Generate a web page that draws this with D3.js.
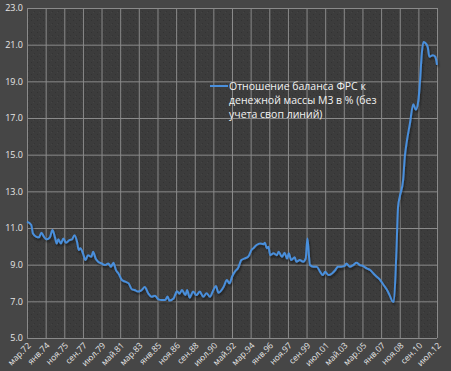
<!DOCTYPE html>
<html>
<head>
<meta charset="utf-8">
<script src="https://cdn.jsdelivr.net/npm/d3@7"></script>
<style>
  html, body { margin: 0; padding: 0; background: #464646; }
  svg { display: block; }
</style>
</head>
<body>
<div id="chart"></div>
<script>
const width = 451
const height = 371
const margin = {top: 8, right: 14, bottom: 33, left: 27}

// monthly readings, Fed balance sheet / M3 (%)
const dates = [
  "1972-03","1972-08","1972-10","1973-02","1973-05","1973-08","1973-11","1974-02","1974-06","1974-09",
  "1974-12","1975-02","1975-04","1975-07","1975-10","1976-01","1976-05","1976-08","1976-11","1977-02",
  "1977-04","1977-06","1977-09","1977-12","1978-03","1978-07","1978-09","1978-12","1979-03","1979-07",
  "1979-11","1980-03","1980-06","1980-09","1980-12","1981-03","1981-07","1981-11","1982-03","1982-07",
  "1982-10","1983-02","1983-06","1983-10","1984-02","1984-06","1984-10","1985-02","1985-06","1985-10",
  "1986-01","1986-03","1986-08","1986-12","1987-03","1987-06","1987-10","1987-12","1988-03","1988-07",
  "1988-11","1989-03","1989-07","1989-11","1990-03","1990-07","1990-10","1991-01","1991-07","1991-11",
  "1992-02","1992-05","1992-09","1992-12","1993-04","1993-08","1993-12","1994-04","1994-06","1994-10",
  "1995-02","1995-06","1995-08","1995-10","1995-12","1996-02","1996-06","1996-10","1996-12","1997-04",
  "1997-07","1997-10","1997-12","1998-03","1998-07","1998-09","1999-01","1999-05","1999-08","1999-10",
  "1999-11","2000-01","2000-05","2000-09","2001-01","2001-04","2001-07","2001-11","2002-03","2002-07",
  "2002-10","2003-02","2003-06","2003-08","2003-12","2004-04","2004-08","2004-12","2005-04","2005-08",
  "2005-12","2006-04","2006-08","2006-12","2007-04","2007-08","2007-11","2008-03","2008-04","2008-07",
  "2008-09","2008-11","2009-03","2009-05","2009-07","2009-11","2010-03","2010-06","2010-09","2010-11",
  "2011-01","2011-03","2011-05","2011-08","2011-10","2012-02","2012-05","2012-07"
]
const values = [
  11.35, 11.16, 10.70, 10.52, 10.49, 10.74, 10.52, 10.38, 10.49, 10.89,
  10.49, 10.16, 10.38, 10.16, 10.43, 10.19, 10.34, 10.38, 10.61, 10.25,
  9.80, 9.89, 9.62, 9.25, 9.52, 9.43, 9.70, 9.34, 9.16, 9.07,
  8.98, 9.07, 8.89, 9.10, 8.70, 8.52, 8.16, 8.07, 7.98, 7.65,
  7.62, 7.53, 7.60, 7.78, 7.44, 7.25, 7.30, 7.11, 7.07, 7.07,
  7.27, 7.05, 7.16, 7.55, 7.42, 7.62, 7.34, 7.62, 7.20, 7.53,
  7.34, 7.53, 7.25, 7.44, 7.25, 7.62, 7.83, 7.47, 7.78, 8.16,
  7.98, 8.34, 8.66, 8.80, 9.25, 9.34, 9.43, 9.80, 9.89, 10.07,
  10.16, 10.12, 10.19, 9.89, 9.98, 9.52, 9.62, 9.52, 9.70, 9.43,
  9.65, 9.34, 9.62, 9.25, 9.40, 9.16, 9.25, 9.16, 9.34, 10.43,
  9.98, 8.98, 8.89, 8.89, 8.61, 8.43, 8.61, 8.43, 8.52, 8.71,
  8.89, 8.89, 8.93, 9.07, 8.89, 8.98, 9.10, 8.98, 8.92, 8.80,
  8.71, 8.52, 8.34, 8.16, 7.89, 7.62, 7.34, 6.98, 6.98, 9.62,
  12.16, 12.71, 13.61, 14.88, 15.61, 16.70, 17.75, 17.45, 17.97, 19.06,
  20.51, 21.15, 21.10, 20.88, 20.34, 20.42, 20.34, 19.90
]

const xTicks = ["1972-03","1974-01","1975-11","1977-09","1979-07","1981-05","1983-03","1985-01",
  "1986-11","1988-09","1990-07","1992-05","1994-03","1996-01","1997-11","1999-09","2001-07",
  "2003-05","2005-03","2007-01","2008-11","2010-09","2012-07"]
const xTickLabels = ["мар.72","янв.74","ноя.75","сен.77","июл.79","май.81","мар.83","янв.85",
  "ноя.86","сен.88","июл.90","май.92","мар.94","янв.96","ноя.97","сен.99","июл.01",
  "май.03","мар.05","янв.07","ноя.08","сен.10","июл.12"]
const yTicks = [5, 7, 9, 11, 13, 15, 17, 19, 21, 23]
const legendLines = ["Отношение баланса ФРС к", "денежной массы М3 в % (без", "учета своп линий)"]

const parse = d3.timeParse("%Y-%m")
const data = dates.map((d, i) => ({date: parse(d), value: values[i]}))

const svg = d3.select("#chart").append("svg")
  .attr("width", width)
  .attr("height", height)

const defs = svg.append("defs")
const pat = defs.append("pattern")
  .attr("id", "grain")
  .attr("width", 6).attr("height", 6)
  .attr("patternUnits", "userSpaceOnUse")
pat.append("rect").attr("width", 6).attr("height", 6).attr("fill", "#3c3c3c")
pat.append("rect").attr("x", 1).attr("y", 2).attr("width", 1).attr("height", 1).attr("fill", "#323232")
pat.append("rect").attr("x", 4).attr("y", 5).attr("width", 1).attr("height", 1).attr("fill", "#343434")
pat.append("rect").attr("x", 3).attr("y", 0).attr("width", 1).attr("height", 1).attr("fill", "#444")

const shadow = defs.append("filter").attr("id", "shadow")
  .attr("x", "-5%").attr("y", "-5%").attr("width", "110%").attr("height", "120%")
shadow.append("feDropShadow")
  .attr("dx", 1).attr("dy", 2).attr("stdDeviation", 1)
  .attr("flood-color", "#000").attr("flood-opacity", 0.5)

const x = d3.scaleTime()
  .domain([parse(xTicks[0]), parse(xTicks[xTicks.length - 1])])
  .range([margin.left, width - margin.right])

const y = d3.scaleLinear()
  .domain([5, 23])
  .range([height - margin.bottom, margin.top])

svg.append("rect")
  .attr("x", margin.left).attr("y", margin.top)
  .attr("width", width - margin.right - margin.left)
  .attr("height", height - margin.bottom - margin.top)
  .attr("fill", "url(#grain)")

// horizontal grid + y labels
svg.append("g")
  .attr("transform", `translate(${margin.left},0)`)
  .call(d3.axisLeft(y).tickValues(yTicks)
    .tickSize(-(width - margin.right - margin.left))
    .tickFormat(d3.format(".1f")))
  .call(g => g.select(".domain").remove())
  .call(g => g.selectAll("line").attr("stroke", "#8a8a8a"))
  .call(g => g.selectAll("text")
    .attr("x", -4)
    .attr("fill", "#e6e6e6")
    .style("font-family", "'Open Sans', sans-serif")
    .style("font-size", "9px"))

// vertical grid + x labels
svg.append("g")
  .attr("transform", `translate(0,${height - margin.bottom})`)
  .call(d3.axisBottom(x).tickValues(xTicks.map(parse))
    .tickSize(-(height - margin.bottom - margin.top))
    .tickFormat((d, i) => xTickLabels[i]))
  .call(g => g.select(".domain").remove())
  .call(g => g.selectAll("line").attr("stroke", "#8a8a8a"))
  .call(g => g.selectAll("text")
    .attr("fill", "#e6e6e6")
    .attr("y", 0)
    .attr("dy", 0)
    .attr("text-anchor", "end")
    .attr("transform", "translate(4,8) rotate(-45)")
    .style("font-family", "'Open Sans', sans-serif")
    .style("font-size", "8.5px"))

const line = d3.line()
  .x(d => x(d.date))
  .y(d => y(d.value))
  .curve(d3.curveMonotoneX)

svg.append("path")
  .datum(data)
  .attr("fill", "none")
  .attr("stroke", "#4a8fdc")
  .attr("stroke-width", 2)
  .attr("stroke-linejoin", "round")
  .attr("filter", "url(#shadow)")
  .attr("d", line)

// legend
const legend = svg.append("g").attr("transform", "translate(210,86)")
legend.append("line")
  .attr("x1", 0).attr("x2", 18)
  .attr("stroke", "#4a8fdc").attr("stroke-width", 2)
legend.selectAll("text")
  .data(legendLines)
  .join("text")
  .attr("x", 19)
  .attr("y", (d, i) => 4 + i * 14)
  .attr("fill", "#f2f2f2")
  .style("font-family", "'Open Sans', sans-serif")
  .style("font-size", "10.5px")
  .text(d => d)
</script>
</body>
</html>
